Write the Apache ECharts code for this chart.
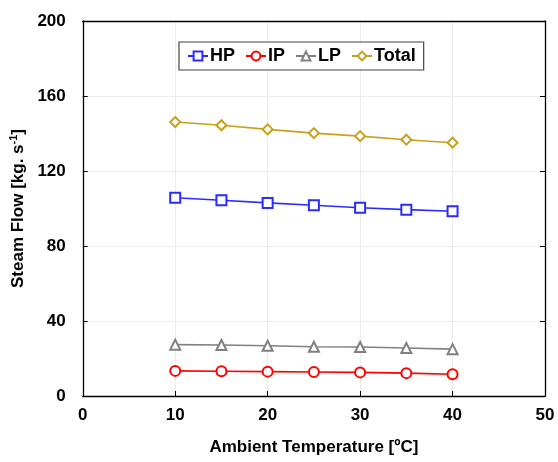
<!DOCTYPE html>
<html>
<head>
<meta charset="utf-8">
<script src="https://cdn.jsdelivr.net/npm/echarts@6/dist/echarts.min.js"></script>
<style>html,body{margin:0;padding:0;background:#fff}#c{width:558px;height:462px}</style>
</head>
<body>
<div id="c"></div>
<script>
var temps = [10, 15, 20, 25, 30, 35, 40];
var hp = [105.7, 104.4, 103.0, 101.7, 100.4, 99.4, 98.5];
var ip = [13.4, 13.2, 13.0, 12.8, 12.6, 12.2, 11.6];
var lp = [27.4, 27.2, 26.8, 26.3, 26.1, 25.6, 25.0];
var total = [146.1, 144.4, 142.2, 140.2, 138.6, 136.7, 135.1];
var xTicks = [0, 10, 20, 30, 40, 50];
var yTicks = [0, 40, 80, 120, 160, 200];

function pairs(v) { return temps.map(function (t, i) { return [t, v[i]]; }); }
var FONT = 'Liberation Sans, Arial, sans-serif';
var chart = echarts.init(document.getElementById('c'), null, {renderer: 'canvas'});

function mk(name, data, color, symbol) {
  return {
    name: name, type: 'line', data: pairs(data), symbol: symbol, symbolSize: 10,
    lineStyle: {color: color, width: 1.6},
    itemStyle: {color: '#fff', borderColor: color, borderWidth: 2},
    emphasis: {disabled: true}, animation: false
  };
}

chart.setOption({
  animation: false,
  grid: {left: 82, right: 13, top: 21, bottom: 66, containLabel: false},
  legend: {
    left: 179, top: 42,
    padding: [5, 8, 5, 8], itemGap: 10, itemWidth: 20, itemHeight: 11,
    borderColor: '#444', borderWidth: 1.2, backgroundColor: '#fff',
    textStyle: {fontFamily: FONT, fontWeight: 'bold', fontSize: 18, color: '#000', padding: [0, 0, 0, -3]},
    data: ['HP', 'IP', 'LP', 'Total']
  },
  xAxis: [{
    type: 'value', min: xTicks[0], max: xTicks[xTicks.length - 1], interval: 10,
    name: 'Ambient Temperature [ºC]', nameLocation: 'middle', nameGap: 43,
    nameTextStyle: {fontFamily: FONT, fontWeight: 'bold', fontSize: 17, color: '#000'},
    axisLine: {onZero: false, lineStyle: {color: '#000', width: 1.3}},
    axisTick: {inside: true, length: 5, lineStyle: {color: '#000'}},
    axisLabel: {fontFamily: FONT, fontWeight: 'bold', fontSize: 17, color: '#000', margin: 11},
    splitLine: {show: true, lineStyle: {color: '#ececec', width: 1}}
  }, {
    type: 'value', position: 'top', min: 0, max: 50, interval: 10,
    axisLine: {show: true, onZero: false, lineStyle: {color: '#000', width: 1.3}},
    axisTick: {show: false}, axisLabel: {show: false}, splitLine: {show: false}
  }],
  yAxis: [{
    type: 'value', min: yTicks[0], max: yTicks[yTicks.length - 1], interval: 40,
    name: '{n|Steam Flow [kg. s}{s|-1}{n|]}', nameLocation: 'middle', nameGap: 53, nameRotate: 90,
    nameTextStyle: {
      fontFamily: FONT, fontWeight: 'bold', fontSize: 17, color: '#000',
      rich: {
        n: {fontFamily: FONT, fontWeight: 'bold', fontSize: 17, color: '#000'},
        s: {fontFamily: FONT, fontWeight: 'bold', fontSize: 11, color: '#000', padding: [0, 0, 9, 0]}
      }
    },
    axisLine: {show: true, onZero: false, lineStyle: {color: '#000', width: 1.3}},
    axisTick: {inside: true, length: 5, lineStyle: {color: '#000'}},
    axisLabel: {fontFamily: FONT, fontWeight: 'bold', fontSize: 17, color: '#000', margin: 17},
    splitLine: {show: true, lineStyle: {color: '#ececec', width: 1}}
  }, {
    type: 'value', position: 'right', min: 0, max: 200, interval: 40,
    axisLine: {show: true, onZero: false, lineStyle: {color: '#000', width: 1.3}},
    axisTick: {show: true, inside: true, length: 5, lineStyle: {color: '#000'}},
    axisLabel: {show: false}, splitLine: {show: false}
  }],
  series: [
    mk('HP', hp, '#2b2bff', 'rect'),
    mk('IP', ip, '#ff0000', 'circle'),
    mk('LP', lp, '#808080', 'triangle'),
    mk('Total', total, '#c8a020', 'diamond')
  ]
});
</script>
</body>
</html>
